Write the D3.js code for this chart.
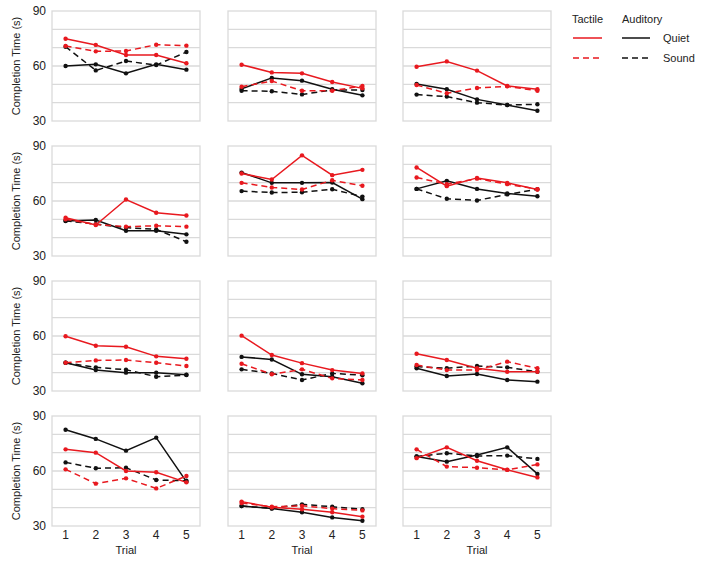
<!DOCTYPE html>
<html>
<head>
<meta charset="utf-8">
<script src="https://cdn.jsdelivr.net/npm/d3@7"></script>
<style>
  body { margin: 0; background: #fff; }
  text { font-family: Arial, "Liberation Sans", sans-serif; fill: #222; }
</style>
</head>
<body>
<svg id="chart" width="708" height="562"></svg>
<script>
// values per panel (row-major, 4 rows x 3 columns), trials 1..5
const trials = [1, 2, 3, 4, 5];
const yTicks = [30, 60, 90];

const tactileQuiet = [
    [74.9, 71.5, 66, 66, 61.5],
    [60.7, 56.5, 56, 51.3, 47.8],
    [59.6, 62.5, 57.5, 49.1, 47.3],
    [50.9, 46.9, 60.8, 53.6, 52.1],
    [75, 71.7, 84.9, 74.1, 77],
    [78.3, 68.1, 72.6, 69.9, 66.3],
    [59.9, 54.7, 54.1, 48.9, 47.6],
    [60.2, 49.6, 45.2, 41.4, 39.6],
    [50.3, 46.9, 42.4, 40.5, 40.5],
    [71.8, 70, 60, 59.3, 53.8],
    [43.3, 40.2, 39.1, 37.5, 35.1],
    [67, 72.9, 65.6, 60.7, 56.5]
];
const tactileSound = [
    [70.9, 68, 68.2, 71.6, 71.1],
    [48.7, 51.8, 46.5, 46.5, 49.1],
    [49.6, 45.1, 48, 48.9, 46.5],
    [50, 47.2, 46, 46.5, 46],
    [69.9, 67.4, 66.3, 71.3, 68.3],
    [72.8, 69.2, 72.2, 69.2, 66.4],
    [45.4, 46.7, 46.9, 45.4, 43.6],
    [44.9, 39.1, 41.8, 36.9, 36],
    [44.2, 41.4, 41.4, 46, 42.4],
    [60.9, 53.1, 56, 50.5, 57.3],
    [42.5, 40.5, 41, 39.5, 38.5],
    [71.8, 62.4, 61.8, 60.6, 63.6]
];
const auditoryQuiet = [
    [60, 60.9, 56, 60.9, 58],
    [47.5, 53.5, 52, 47.3, 44],
    [50.2, 47.3, 41.8, 38.7, 35.6],
    [49.1, 49.6, 43.8, 43.8, 41.8],
    [75.5, 69.9, 69.9, 70.1, 61],
    [66.6, 71, 66.6, 64.1, 62.6],
    [45.4, 41.4, 40, 40, 38.9],
    [48.6, 47.2, 39.1, 37.8, 34.2],
    [42.4, 38.2, 39.3, 36, 35.1],
    [82.5, 77.5, 71.1, 78.2, 54.2],
    [40.9, 39.5, 37.5, 34.7, 32.9],
    [67.9, 65.1, 68.7, 72.9, 58.4]
];
const auditorySound = [
    [70.5, 57.6, 62.7, 60.5, 67.6],
    [46.5, 46.2, 44.5, 46.9, 46.9],
    [44.4, 43.3, 40, 38.7, 39.1],
    [49.2, 47.4, 45.5, 44.5, 37.8],
    [65.4, 64.6, 64.8, 66.4, 62.4],
    [66.6, 61.2, 60.3, 63.6, 66.4],
    [45.4, 42.9, 41.6, 37.8, 38.7],
    [41.8, 39.6, 36, 39.6, 38.6],
    [43.3, 42.4, 43.6, 42.9, 40.5],
    [64.7, 61.5, 61.8, 55.1, 54.7],
    [40.9, 39.6, 41.8, 40.5, 39.1],
    [67.9, 69.7, 68.2, 68.4, 66.6]
];

const series = [
    { name: "Auditory Quiet", values: auditoryQuiet, color: "#111", dash: null },
    { name: "Auditory Sound", values: auditorySound, color: "#111", dash: "6,4" },
    { name: "Tactile Quiet", values: tactileQuiet, color: "#e8191f", dash: null },
    { name: "Tactile Sound", values: tactileSound, color: "#e8191f", dash: "6,4" }
];

// layout
const colX = [52, 228, 403];
const rowY = [11, 146, 281, 416];
const pw = 148, ph = 110;
const gridColor = "#dadada";

const svg = d3.select("#chart");

const x = d3.scaleLinear().domain([0.55, 5.45]).range([0, pw]);
const y = d3.scaleLinear().domain([30, 90]).range([ph, 0]);

const line = d3.line()
    .x(function (d, i) { return x(trials[i]); })
    .y(function (d) { return y(d); });

for (let r = 0; r < 4; r++) {
    for (let c = 0; c < 3; c++) {
        const idx = r * 3 + c;
        const g = svg.append("g")
            .attr("transform", "translate(" + colX[c] + "," + rowY[r] + ")");

        // grid lines every 10
        g.selectAll("line.grid")
            .data(d3.range(40, 90, 10))
            .enter()
            .append("line")
            .attr("class", "grid")
            .attr("x1", 0).attr("x2", pw)
            .attr("y1", d => y(d)).attr("y2", d => y(d))
            .attr("stroke", gridColor)
            .attr("stroke-width", 1.3);

        g.append("rect")
            .attr("x", 0).attr("y", 0)
            .attr("width", pw).attr("height", ph)
            .attr("fill", "none")
            .attr("stroke", gridColor)
            .attr("stroke-width", 1.3);

        series.forEach(function (s) {
            const vals = s.values[idx];
            g.append("path")
                .datum(vals)
                .attr("d", line)
                .attr("fill", "none")
                .attr("stroke", s.color)
                .attr("stroke-width", 1.5)
                .attr("stroke-dasharray", s.dash);
            g.selectAll(null)
                .data(vals)
                .enter()
                .append("circle")
                .attr("cx", (d, i) => x(trials[i]))
                .attr("cy", d => y(d))
                .attr("r", 2.2)
                .attr("fill", s.color);
        });

        // y axis labels in first column
        if (c === 0) {
            g.selectAll("text.ytick")
                .data(yTicks)
                .enter()
                .append("text")
                .attr("class", "ytick")
                .attr("x", -6)
                .attr("y", d => y(d))
                .attr("dy", "0.35em")
                .attr("text-anchor", "end")
                .attr("font-size", 12)
                .text(d => d);
            g.append("text")
                .attr("transform", "translate(-32," + (ph / 2) + ") rotate(-90)")
                .attr("text-anchor", "middle")
                .attr("font-size", 11)
                .text("Completion Time (s)");
        }

        // x axis labels in bottom row
        if (r === 3) {
            g.selectAll("text.xtick")
                .data(trials)
                .enter()
                .append("text")
                .attr("class", "xtick")
                .attr("x", d => x(d))
                .attr("y", ph + 13)
                .attr("text-anchor", "middle")
                .attr("font-size", 12)
                .text(d => d);
            g.append("text")
                .attr("x", pw / 2)
                .attr("y", ph + 28)
                .attr("text-anchor", "middle")
                .attr("font-size", 11)
                .text("Trial");
        }
    }
}

// legend
const legend = svg.append("g");
legend.append("text").attr("x", 572).attr("y", 23).attr("font-size", 11).text("Tactile");
legend.append("text").attr("x", 622).attr("y", 23).attr("font-size", 11).text("Auditory");
const legendRows = [
    { label: "Quiet", dash: null, y: 38 },
    { label: "Sound", dash: "6,4", y: 58 }
];
legendRows.forEach(function (row) {
    legend.append("line")
        .attr("x1", 573).attr("x2", 602)
        .attr("y1", row.y).attr("y2", row.y)
        .attr("stroke", "#e8191f").attr("stroke-width", 1.5)
        .attr("stroke-dasharray", row.dash);
    legend.append("line")
        .attr("x1", 622).attr("x2", 650)
        .attr("y1", row.y).attr("y2", row.y)
        .attr("stroke", "#111").attr("stroke-width", 1.5)
        .attr("stroke-dasharray", row.dash);
    legend.append("text")
        .attr("x", 663).attr("y", row.y)
        .attr("dy", "0.35em")
        .attr("font-size", 11)
        .text(row.label);
});
</script>
</body>
</html>
